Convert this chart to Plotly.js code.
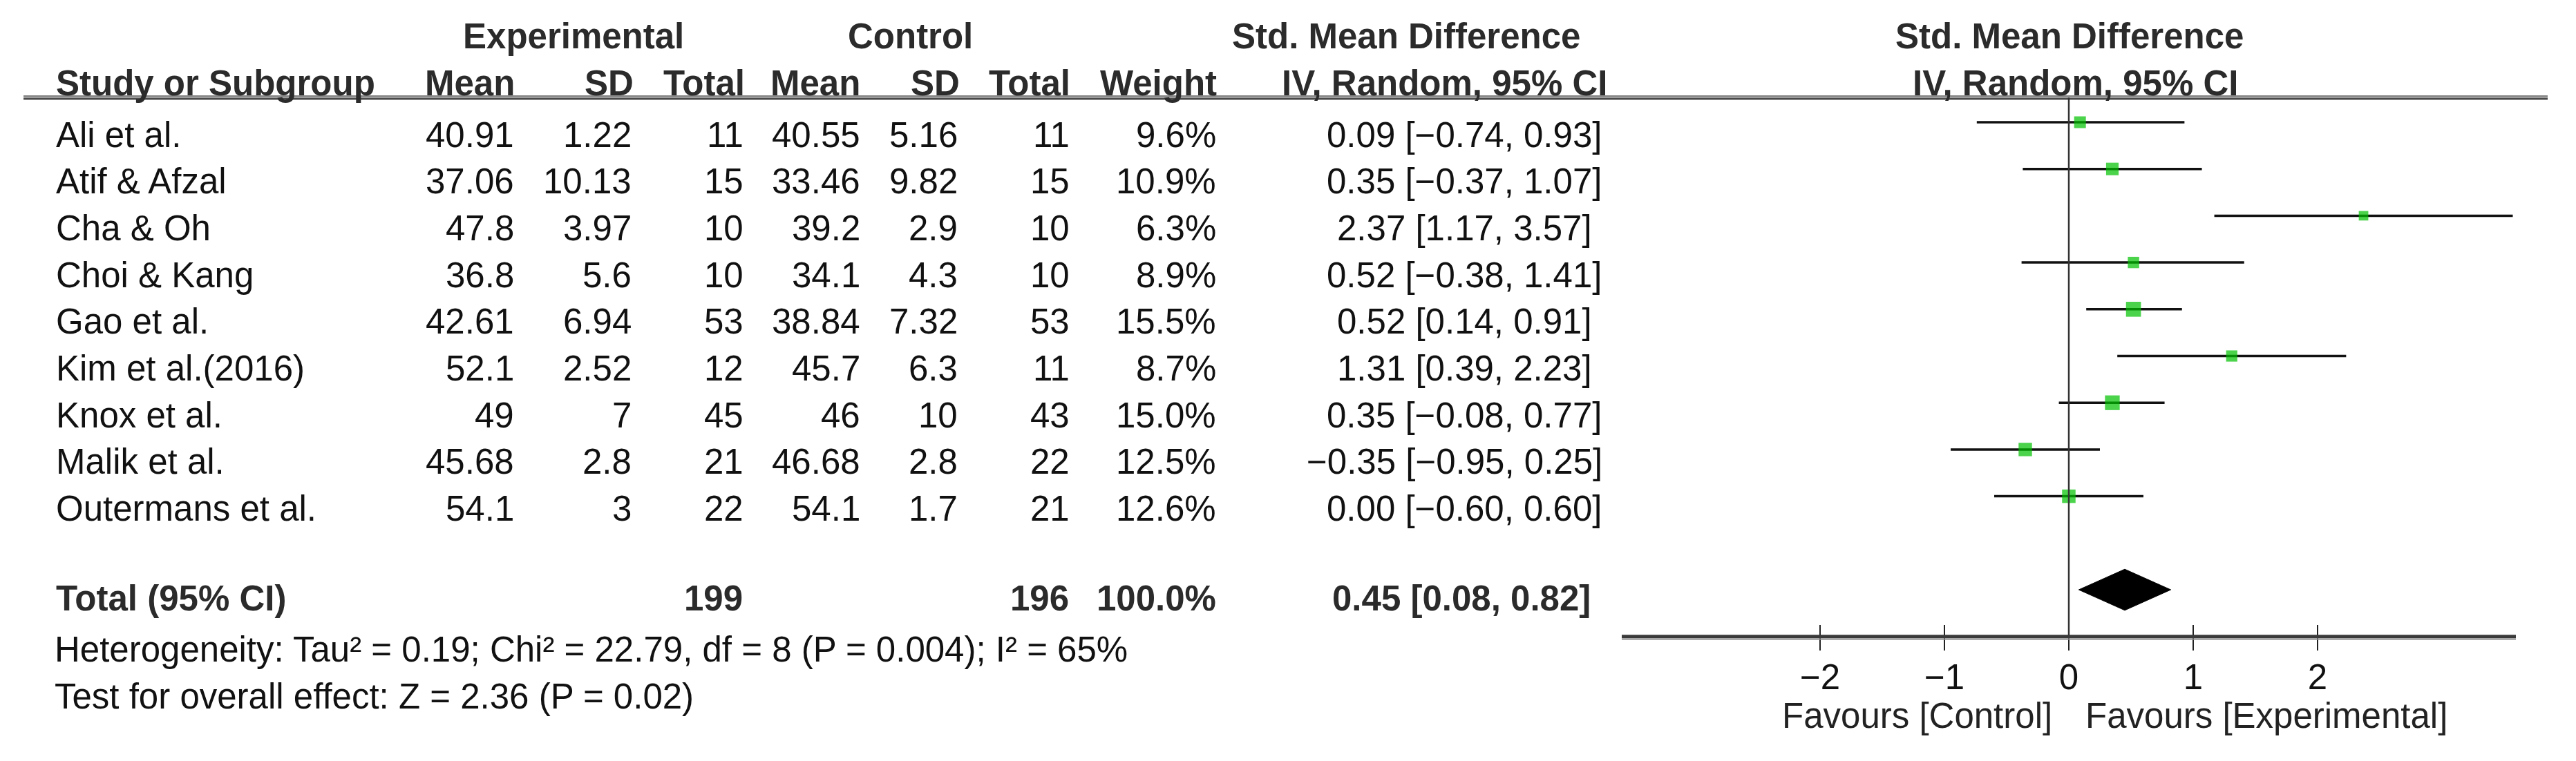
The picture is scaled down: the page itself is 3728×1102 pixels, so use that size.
<!DOCTYPE html>
<html>
<head>
<meta charset="utf-8">
<script src="https://cdn.plot.ly/plotly-3.0.1.min.js"></script>
<style>html,body{margin:0;padding:0;background:#fff;}#chart{width:3728px;height:1102px;}</style>
</head>
<body>
<div id="chart"></div>
<script>
// ---------------- data ----------------
const studies = ["Ali et al.", "Atif & Afzal", "Cha & Oh", "Choi & Kang", "Gao et al.", "Kim et al.(2016)", "Knox et al.", "Malik et al.", "Outermans et al."];
const expMean = [40.91, 37.06, 47.8, 36.8, 42.61, 52.1, 49, 45.68, 54.1];
const expSD   = [1.22, 10.13, 3.97, 5.6, 6.94, 2.52, 7, 2.8, 3];
const expN    = [11, 15, 10, 10, 53, 12, 45, 21, 22];
const ctlMean = [40.55, 33.46, 39.2, 34.1, 38.84, 45.7, 46, 46.68, 54.1];
const ctlSD   = [5.16, 9.82, 2.9, 4.3, 7.32, 6.3, 10, 2.8, 1.7];
const ctlN    = [11, 15, 10, 10, 53, 11, 43, 22, 21];
const weights = [9.6, 10.9, 6.3, 8.9, 15.5, 8.7, 15.0, 12.5, 12.6];
const smd     = [0.09, 0.35, 2.37, 0.52, 0.52, 1.31, 0.35, -0.35, 0.00];
const ciLow   = [-0.74, -0.37, 1.17, -0.38, 0.14, 0.39, -0.08, -0.95, -0.60];
const ciHigh  = [0.93, 1.07, 3.57, 1.41, 0.91, 2.23, 0.77, 0.25, 0.60];
const totalLabel = "Total (95% CI)";
const totalExpN = 199;
const totalCtlN = 196;
const totalWeight = 100.0;
const totalSMD = 0.45;
const totalLow = 0.08;
const totalHigh = 0.82;
const heterogeneityText = "Heterogeneity: Tau² = 0.19; Chi² = 22.79, df = 8 (P = 0.004); I² = 65%";
const overallText = "Test for overall effect: Z = 2.36 (P = 0.02)";
const tickVals = [-2, -1, 0, 1, 2];
const favoursLeft = "Favours [Control]";
const favoursRight = "Favours [Experimental]";

// ---------------- layout helpers ----------------
const W = 3728, H = 1102;
const FS = 51;
const FONT = "Liberation Sans, Arial, sans-serif";
const px = v => v / W;
const py = v => 1 - v / H;
const esc = s => s.replace(/&/g, "&amp;");
const fmt2 = v => (v < 0 ? "\u2212" : "") + Math.abs(v).toFixed(2);
const totalRow = studies.length + 1;

const annotations = [];
function ann(text, x, xanchor, y, yref, opts) {
  const a = Object.assign({
    text: text, x: x, xref: "paper", xanchor: xanchor,
    y: y, yref: yref, yanchor: "middle",
    showarrow: false, borderpad: 0,
    font: {family: FONT, size: FS, color: "#111"}
  }, opts || {});
  annotations.push(a);
}
const BOLD = {font: {family: FONT, size: FS, color: "#2b2b2b"}};
function ciText(est, lo, hi, bold) {
  const e = fmt2(est);
  const s = e + "\u00A0[" + fmt2(lo) + ", " + fmt2(hi) + "]" +
            '<span style="color:#ffffff">\u00A0' + e + "</span>";
  return bold ? "<b>" + s + "</b>" : s;
}

// header rows
ann("<b>Experimental</b>", px(830), "center", py(52), "paper", BOLD);
ann("<b>Control</b>", px(1317), "center", py(52), "paper", BOLD);
ann("<b>Std. Mean Difference</b>", px(2035), "center", py(52), "paper", BOLD);
ann("<b>Std. Mean Difference</b>", px(2995), "center", py(52), "paper", BOLD);
ann("<b>Study or Subgroup</b>", px(80), "left", py(120), "paper", BOLD);
ann("<b>Mean</b>", px(746), "right", py(120), "paper", BOLD);
ann("<b>SD</b>", px(918), "right", py(120), "paper", BOLD);
ann("<b>Total</b>", px(1079), "right", py(120), "paper", BOLD);
ann("<b>Mean</b>", px(1246), "right", py(120), "paper", BOLD);
ann("<b>SD</b>", px(1390), "right", py(120), "paper", BOLD);
ann("<b>Total</b>", px(1550), "right", py(120), "paper", BOLD);
ann("<b>Weight</b>", px(1762), "right", py(120), "paper", BOLD);
ann("<b>IV, Random, 95% CI</b>", px(2090), "center", py(120), "paper", BOLD);
ann("<b>IV, Random, 95% CI</b>", px(3003), "center", py(120), "paper", BOLD);

// study rows
const ROWSHIFT = -18;
studies.forEach((s, i) => {
  const o = {yshift: ROWSHIFT};
  ann(esc(s), px(80), "left", i, "y", o);
  ann(String(expMean[i]), px(745), "right", i, "y", o);
  ann(String(expSD[i]), px(915), "right", i, "y", o);
  ann(String(expN[i]), px(1077), "right", i, "y", o);
  ann(String(ctlMean[i]), px(1246), "right", i, "y", o);
  ann(String(ctlSD[i]), px(1387), "right", i, "y", o);
  ann(String(ctlN[i]), px(1549), "right", i, "y", o);
  ann(weights[i].toFixed(1) + "%", px(1761), "right", i, "y", o);
  ann(ciText(smd[i], ciLow[i], ciHigh[i], false), px(2176), "center", i, "y", o);
});

// total row
ann("<b>" + totalLabel + "</b>", px(80), "left", py(866), "paper", BOLD);
ann("<b>" + totalExpN + "</b>", px(1076), "right", py(866), "paper", BOLD);
ann("<b>" + totalCtlN + "</b>", px(1548), "right", py(866), "paper", BOLD);
ann("<b>" + totalWeight.toFixed(1) + "%</b>", px(1761), "right", py(866), "paper", BOLD);
ann(ciText(totalSMD, totalLow, totalHigh, true), px(2172), "center", py(866), "paper", BOLD);

// footnotes
ann(heterogeneityText, px(78), "left", py(940), "paper");
ann(overallText, px(78), "left", py(1008), "paper");
ann(favoursLeft, px(2774), "center", py(1036), "paper", {font: {family: FONT, size: FS, color: "#222"}});
ann(favoursRight, px(3280), "center", py(1036), "paper", {font: {family: FONT, size: FS, color: "#222"}});

// ---------------- traces ----------------
const rows = studies.map((_, i) => i);
const ciX = [], ciY = [];
rows.forEach(i => { ciX.push(ciLow[i], ciHigh[i], null); ciY.push(i, i, null); });

const ciTrace = {
  type: "scatter", mode: "lines", x: ciX, y: ciY,
  line: {color: "#111", width: 3.5}, hoverinfo: "skip", cliponaxis: false
};
const squareTrace = {
  type: "scatter", mode: "markers", x: smd, y: rows,
  marker: {symbol: "square", color: "#00c000", size: weights.map(w => 5.5 * Math.sqrt(w)), line: {width: 0}},
  hoverinfo: "skip", cliponaxis: false
};
const DH = 0.44;
const diamondTrace = {
  type: "scatter", mode: "lines", fill: "toself",
  x: [totalLow, totalSMD, totalHigh, totalSMD, totalLow],
  y: [totalRow, totalRow - DH, totalRow, totalRow + DH, totalRow],
  fillcolor: "#000", line: {color: "#000", width: 1}, hoverinfo: "skip", cliponaxis: false
};
const dummyTrace = {
  type: "scatter", mode: "markers", x: [0], y: [0], xaxis: "x2", yaxis: "y",
  marker: {opacity: 0}, hoverinfo: "skip"
};

const XR = [-3.595, 3.595];
const axisRow = totalRow + 1;
const layout = {
  width: W, height: H,
  margin: {l: 0, r: 0, t: 0, b: 0, pad: 0},
  paper_bgcolor: "#fff", plot_bgcolor: "rgba(0,0,0,0)",
  showlegend: false,
  font: {family: FONT, size: FS, color: "#111"},
  xaxis: {
    domain: [px(2347), px(3641)], range: XR, anchor: "free", position: py(922),
    showgrid: false, zeroline: false, showline: false,
    ticks: "outside", ticklen: 19, tickwidth: 2.5, tickcolor: "#222",
    tickmode: "array", tickvals: tickVals, ticklabelstandoff: -5,
    tickfont: {family: FONT, size: FS, color: "#111"}, fixedrange: true
  },
  xaxis2: {
    overlaying: "x", domain: [px(2347), px(3641)], range: XR, anchor: "free", position: py(922),
    showgrid: false, zeroline: false, showline: false,
    ticks: "inside", ticklen: 17, tickwidth: 2.5, tickcolor: "#222",
    tickmode: "array", tickvals: tickVals, showticklabels: false, fixedrange: true
  },
  yaxis: {
    domain: [0, 1], range: [13.663, -2.6145], visible: false, fixedrange: true
  },
  shapes: [
    {type: "line", xref: "paper", yref: "paper", x0: px(34), x1: px(3687), y0: py(139.5), y1: py(139.5), line: {color: "#8a8a8a", width: 3}},
    {type: "line", xref: "paper", yref: "paper", x0: px(34), x1: px(3687), y0: py(143), y1: py(143), line: {color: "#4a4a4a", width: 3}},
    {type: "line", xref: "x", yref: "y", x0: 0, x1: 0, y0: -0.524, y1: axisRow, line: {color: "#333", width: 2.5}},
    {type: "line", xref: "x", yref: "y", x0: XR[0], x1: XR[1], y0: axisRow, y1: axisRow, line: {color: "#3a3a3a", width: 5}},
    {type: "line", xref: "x", yref: "paper", x0: XR[0], x1: XR[1], y0: py(925.5), y1: py(925.5), line: {color: "#8a8a8a", width: 2}}
  ],
  annotations: annotations
};

Plotly.newPlot("chart", [ciTrace, squareTrace, diamondTrace, dummyTrace], layout, {staticPlot: true, displayModeBar: false});
</script>
</body>
</html>
